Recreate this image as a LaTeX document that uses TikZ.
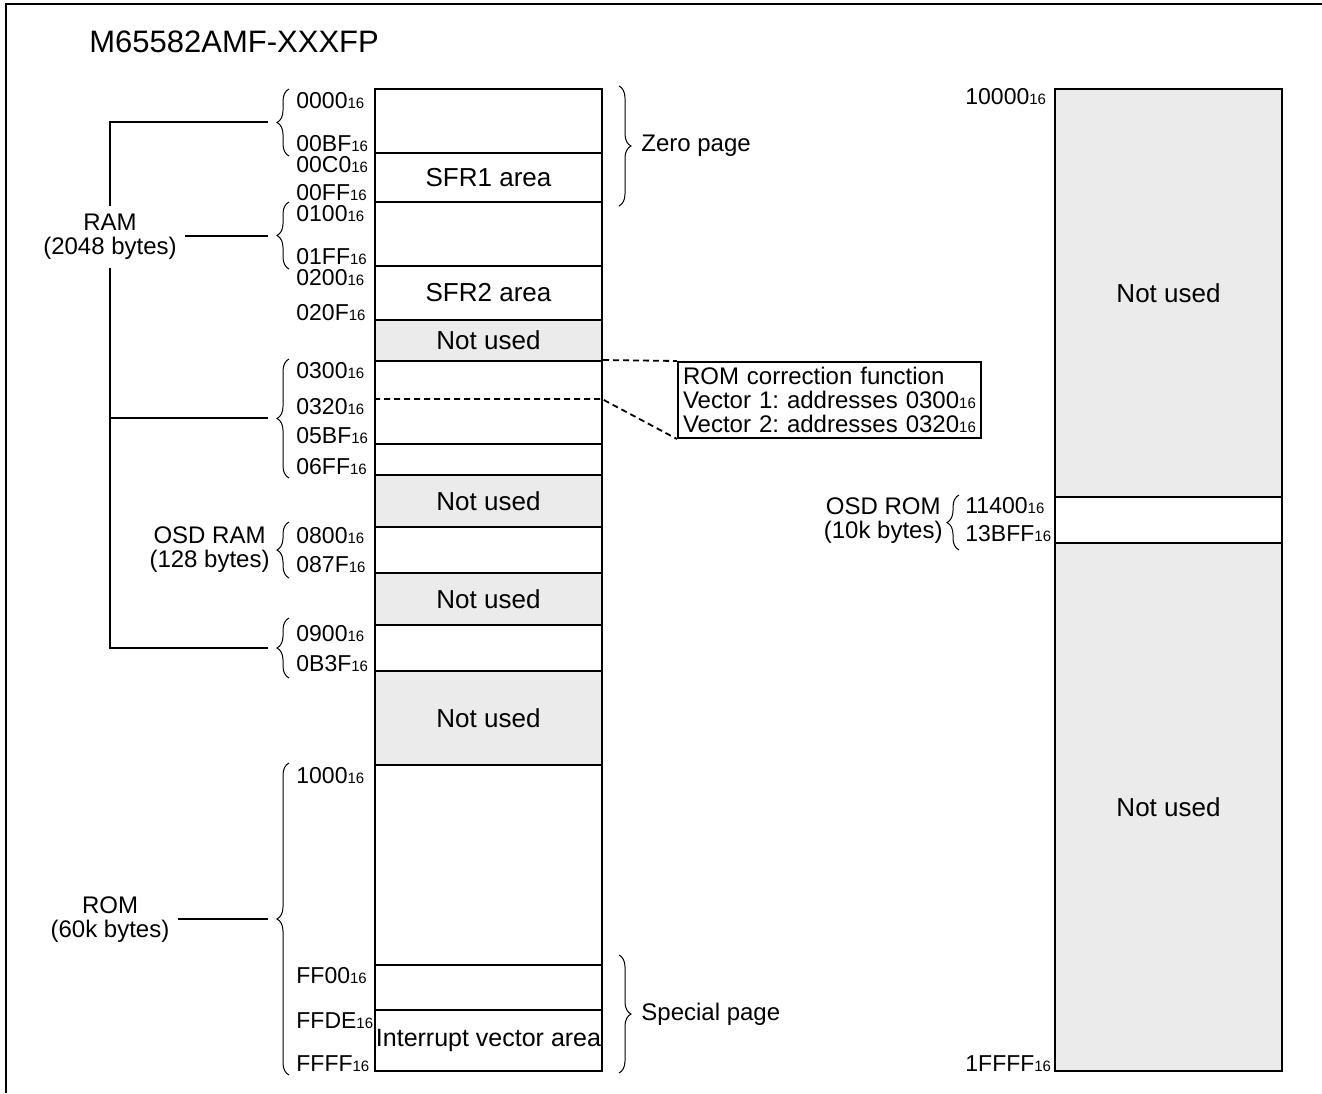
\documentclass[tikz,border=0pt]{standalone}
\usepackage{fontspec}
\setmainfont{Liberation Sans}
\usetikzlibrary{decorations.pathreplacing}
\definecolor{freegray}{HTML}{EBEBEB}
\newcommand{\hexa}[1]{#1{\fontsize{7.5}{8}\selectfont 16}}
\tikzset{
  area/.style={draw, line width=1pt, minimum width=113.5pt, inner sep=0pt,
               font=\fontsize{13}{15}\selectfont},
  freearea/.style={area, fill=freegray},
  addr/.style={anchor=base west, inner sep=0pt, font=\fontsize{11.5}{13}\selectfont},
  lbl/.style={align=center, inner sep=4pt, font=\fontsize{12}{12}\selectfont},
  curly/.style={decorate, decoration={brace, amplitude=6pt}, line width=0.5pt},
  link/.style={line width=1pt},
  guide/.style={line width=0.9pt, dash pattern=on 3pt off 2pt},
}

\begin{document}
\begin{tikzpicture}[x=0.5pt, y=-0.5pt]
    \useasboundingbox (0,0) rectangle (1322,1093);
    \draw[line width=1.2pt] (6,1093) -- (6,4) -- (1322,4);
    \node[anchor=base west, inner sep=0pt, font=\fontsize{15.5}{17}\selectfont] (title) at (89,52) {M65582AMF-XXXFP};

    % address space 0000 - FFFF
    \node[area, minimum height=32pt] (zp) at (488.5,121) {};
    \node[area, minimum height=24.5pt] (sfr1) at (488.5,177.5) {SFR1 area};
    \node[area, minimum height=32pt] (ram1) at (488.5,234) {};
    \node[area, minimum height=27pt] (sfr2) at (488.5,293) {SFR2 area};
    \node[freearea, minimum height=20.5pt] (nu1) at (488.5,340.5) {Not used};
    \node[area, minimum height=41.5pt] (ram2) at (488.5,402.5) {};
    \node[area, minimum height=15.5pt] (ram3) at (488.5,459.5) {};
    \node[freearea, minimum height=26pt] (nu2) at (488.5,501) {Not used};
    \node[area, minimum height=23pt] (osdram) at (488.5,550) {};
    \node[freearea, minimum height=26pt] (nu3) at (488.5,599) {Not used};
    \node[area, minimum height=23pt] (ram4) at (488.5,648) {};
    \node[freearea, minimum height=47pt] (nu4) at (488.5,718) {Not used};
    \node[area, minimum height=100pt] (rom) at (488.5,865) {};
    \node[area, minimum height=22.5pt] (spc) at (488.5,987.5) {};
    \node[area, minimum height=30.5pt, font=\fontsize{12.5}{14}\selectfont] (ivec) at (488.5,1040.5) {Interrupt vector area};

    % address space 10000 - 1FFFF
    \node[freearea, minimum height=204pt] (hi0) at (1168.5,293) {Not used};
    \node[area, minimum height=23pt] (osdrom) at (1168.5,520) {};
    \node[freearea, minimum height=264pt] (hi1) at (1168.5,807) {Not used};

    \node[addr] (a0000) at (296,108) {\hexa{0000}};
    \node[addr] (a00BF) at (296,151) {\hexa{00BF}};
    \node[addr] (a00C0) at (296,172) {\hexa{00C0}};
    \node[addr] (a00FF) at (296,200) {\hexa{00FF}};
    \node[addr] (a0100) at (296,221) {\hexa{0100}};
    \node[addr] (a01FF) at (296,264) {\hexa{01FF}};
    \node[addr] (a0200) at (296,285) {\hexa{0200}};
    \node[addr] (a020F) at (296,320) {\hexa{020F}};
    \node[addr] (a0300) at (296,378) {\hexa{0300}};
    \node[addr] (a0320) at (296,414) {\hexa{0320}};
    \node[addr] (a05BF) at (296,443) {\hexa{05BF}};
    \node[addr] (a06FF) at (296,474) {\hexa{06FF}};
    \node[addr] (a0800) at (296,543) {\hexa{0800}};
    \node[addr] (a087F) at (296,572) {\hexa{087F}};
    \node[addr] (a0900) at (296,641) {\hexa{0900}};
    \node[addr] (a0B3F) at (296,671) {\hexa{0B3F}};
    \node[addr] (a1000) at (296,783) {\hexa{1000}};
    \node[addr] (aFF00) at (296,983) {\hexa{FF00}};
    \node[addr] (aFFDE) at (296,1028) {\hexa{FFDE}};
    \node[addr] (aFFFF) at (296,1071) {\hexa{FFFF}};
    \node[addr] (a10000) at (965,104) {\hexa{10000}};
    \node[addr] (a11400) at (965,513) {\hexa{11400}};
    \node[addr] (a13BFF) at (965,541) {\hexa{13BFF}};
    \node[addr] (a1FFFF) at (965,1071) {\hexa{1FFFF}};

    % ROM correction vectors
    \coordinate (v2) at (602,399);
    \node[draw, line width=1pt, anchor=north west, align=left, text width=146.5pt,
          inner xsep=2.5pt, inner ysep=1pt, minimum height=38pt,
          font=\fontsize{12}{12}\selectfont\frenchspacing] (romcor) at (677,361)
          {ROM correction function\\Vector 1: addresses \hexa{0300}\\Vector 2: addresses \hexa{0320}};
    \draw[guide] (ram2.north east) -- (romcor.north west);
    \draw[guide] (ram2.west |- v2) -- (v2) -- (romcor.south west);

    % braces and their labels
    \draw[curly] (289,156) -- (289,89);
    \draw[curly] (289,269) -- (289,202);
    \draw[curly] (289,478) -- (289,359);
    \draw[curly] (289,578) -- (289,522);
    \draw[curly] (289,678) -- (289,618);
    \draw[curly] (289,1075) -- (289,763);
    \draw[curly] (619,86) -- (619,206);
    \draw[curly] (619,955) -- (619,1073);
    \draw[curly] (959,550) -- (959,495);

    \coordinate (kA) at (268,122);
    \coordinate (kB) at (268,236);
    \coordinate (kC) at (268,418);
    \coordinate (kE) at (268,648);
    \coordinate (kR) at (268,919);

    \node[lbl] (ramlbl) at (110,237) {RAM\\(2048 bytes)};
    \node[lbl] (romlbl) at (110,920) {ROM\\(60k bytes)};
    \node[lbl, anchor=east, inner sep=0pt] (osdramlbl) at (270,550) {OSD RAM\\(128 bytes)};
    \node[lbl, anchor=east, inner sep=0pt] (osdromlbl) at (943,521) {OSD ROM\\(10k bytes)};
    \node[anchor=west, inner sep=0pt, font=\fontsize{12}{14}\selectfont] (zplbl) at (641,146) {Zero page};
    \node[anchor=west, inner sep=0pt, font=\fontsize{12}{14}\selectfont] (splbl) at (641,1014) {Special page};

    \draw[link] (kA) -| (ramlbl.north);
    \draw[link] (ramlbl.east |- kB) -- (kB);
    \draw[link] (kC) -- (kC -| ramlbl.south);
    \draw[link] (ramlbl.south) |- (kE);
    \draw[link] (romlbl.east |- kR) -- (kR);
\end{tikzpicture}
\end{document}
